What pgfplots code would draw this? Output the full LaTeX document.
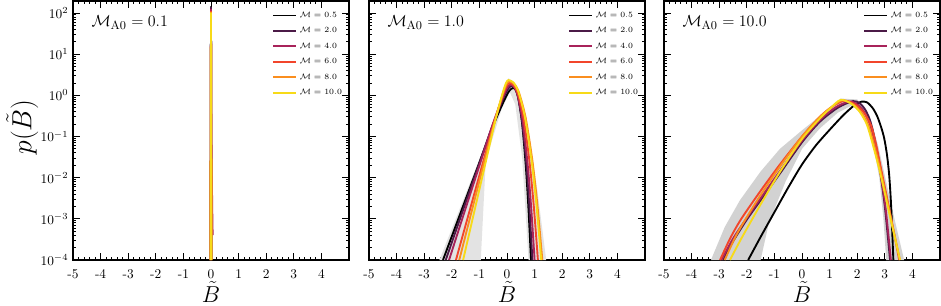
\documentclass[border=0pt]{standalone}
\usepackage{pgfplots}
\pgfplotsset{compat=1.18}
\definecolor{cA}{HTML}{000000}
\definecolor{cB}{HTML}{4B1A47}
\definecolor{cC}{HTML}{A8235A}
\definecolor{cD}{HTML}{F2452B}
\definecolor{cE}{HTML}{FA8E1F}
\definecolor{cF}{HTML}{F7DA18}
\tikzset{crv/.style={line width=1.4pt, smooth, tension=0.45}, spk/.style={line width=1.4pt}}
\begin{document}
\begin{tikzpicture}
% ---------------- Panel 1 ----------------
\begin{axis}[at={(0pt,0pt)}, anchor=south west,
  scale only axis, width=207pt, height=194.25pt,
  xmin=-5, xmax=5, ymode=log, ymin=1e-4, ymax=195,
  xtick={-5,-4,-3,-2,-1,0,1,2,3,4},
  xticklabels={-5,-4,-3,-2,-1,0,1,2,3,4},
  minor x tick num=4,
  ytick={1e-4,1e-3,1e-2,1e-1,1,10,100},
  tick align=inside,
  major tick length=5pt, minor tick length=2.5pt,
  axis line style={line width=0.8pt},
  tick style={black, line width=0.6pt},
  tick label style={font=\normalsize},
  xticklabel style={yshift=-6pt, inner sep=1pt},
  xlabel={$\tilde{B}$},
  xlabel style={font=\fontsize{18}{21}\selectfont, inner sep=0pt, at={(axis description cs:0.5,-0.124)}, anchor=center},
  legend style={at={(axis description cs:0.99,0.975)}, anchor=north east, draw=none, fill=none,
     font=\fontsize{5.7}{6.8}\selectfont, row sep=2pt, inner sep=1pt},
  legend cell align=left,
  ylabel={$p(\tilde{B})$},
  ylabel style={font=\huge, inner sep=0pt, at={(axis description cs:-0.184,0.514)}, anchor=center}]
\addplot[spk, cA] coordinates {(-0.02,1e-4) (-0.006,1) (0,145) (0.006,1) (0.02,1e-4)};
\addplot[spk, cB] coordinates {(-0.02,1e-4) (-0.006,1) (0,140) (0.006,1) (0.02,1e-4)};
\addplot[spk, cC] coordinates {(-0.02,1e-4) (-0.006,1) (0,125) (0.006,1) (0.03,1e-2) (0.05,1e-3) (0.06,4e-4)};
\addplot[spk, cD] coordinates {(-0.02,1e-4) (-0.006,1) (0,112) (0.006,1) (0.02,1e-4)};
\addplot[spk, cE] coordinates {(-0.02,1e-4) (-0.006,1) (0,106) (0.006,1) (0.02,1e-4)};
\addplot[spk, cF] coordinates {(-0.02,1e-4) (-0.006,1) (0,102) (0.006,1) (0.02,1e-4)};
\legend{$\mathcal{M} = 0.5$,$\mathcal{M} = 2.0$,$\mathcal{M} = 4.0$,$\mathcal{M} = 6.0$,$\mathcal{M} = 8.0$,$\mathcal{M} = 10.0$}
\node[anchor=west, font=\fontsize{13}{15}\selectfont] at (rel axis cs:0.05,0.918) {$\mathcal{M}_{\rm A0} = 0.1$};
\end{axis}
% ---------------- Panel 2 ----------------
\begin{axis}[at={(222pt,0pt)}, anchor=south west, yticklabels={},
  scale only axis, width=207pt, height=194.25pt,
  xmin=-5, xmax=5, ymode=log, ymin=1e-4, ymax=195,
  xtick={-5,-4,-3,-2,-1,0,1,2,3,4},
  xticklabels={-5,-4,-3,-2,-1,0,1,2,3,4},
  minor x tick num=4,
  ytick={1e-4,1e-3,1e-2,1e-1,1,10,100},
  tick align=inside,
  major tick length=5pt, minor tick length=2.5pt,
  axis line style={line width=0.8pt},
  tick style={black, line width=0.6pt},
  tick label style={font=\normalsize},
  xticklabel style={yshift=-6pt, inner sep=1pt},
  xlabel={$\tilde{B}$},
  xlabel style={font=\fontsize{18}{21}\selectfont, inner sep=0pt, at={(axis description cs:0.5,-0.124)}, anchor=center},
  legend style={at={(axis description cs:0.99,0.975)}, anchor=north east, draw=none, fill=none,
     font=\fontsize{5.7}{6.8}\selectfont, row sep=2pt, inner sep=1pt},
  legend cell align=left]
\addplot[forget plot, fill=gray!22, draw=none] coordinates {(-2.45,1e-4) (-1.1,1.9e-2) (-0.3,0.5) (0.05,2.6) (0.25,2.1) (0.7,0.3) (1.1,5e-3) (1.42,1e-4) (0.78,1e-4) (0.55,3e-2) (0.3,0.6) (0.1,1.2) (-0.2,0.45) (-0.6,6e-2) (-0.77,2.5e-2) (-0.95,1e-4)} -- cycle;
\addplot[crv, cA] coordinates {(-2.32,1e-4) (-1.685,1.38e-3) (-1.05,1.90e-2) (-0.542,0.155) (-0.237,0.476) (-0.034,0.935) (0.093,1.31) (0.22,1.51) (0.318,1.34) (0.415,0.826) (0.545,0.215) (0.675,2.19e-2) (0.773,2.01e-3) (0.87,1e-4)};
\addplot[crv, cB] coordinates {(-2.22,1e-4) (-1.623,1.43e-3) (-1.025,2.02e-2) (-0.547,0.169) (-0.26,0.527) (-0.069,1.04) (0.05,1.47) (0.17,1.70) (0.283,1.50) (0.395,0.920) (0.545,0.235) (0.695,2.34e-2) (0.808,2.09e-3) (0.92,1e-4)};
\addplot[crv, cC] coordinates {(-2.10,1e-4) (-1.543,1.46e-3) (-0.985,2.10e-2) (-0.539,0.178) (-0.271,0.561) (-0.093,1.11) (0.019,1.57) (0.13,1.82) (0.261,1.60) (0.391,0.982) (0.565,0.248) (0.739,2.43e-2) (0.870,2.13e-3) (1.0,1e-4)};
\addplot[crv, cD] coordinates {(-1.85,1e-4) (-1.365,1.49e-3) (-0.88,2.21e-2) (-0.492,0.191) (-0.259,0.608) (-0.104,1.22) (-0.007,1.72) (0.09,2.00) (0.245,1.75) (0.399,1.07) (0.605,0.267) (0.811,2.56e-2) (0.966,2.20e-3) (1.12,1e-4)};
\addplot[crv, cE] coordinates {(-1.73,1e-4) (-1.28,1.53e-3) (-0.83,2.32e-2) (-0.47,0.205) (-0.254,0.659) (-0.11,1.33) (-0.02,1.88) (0.07,2.19) (0.252,1.92) (0.433,1.17) (0.675,0.288) (0.917,2.69e-2) (1.099,2.26e-3) (1.28,1e-4)};
\addplot[crv, cF] coordinates {(-1.59,1e-4) (-1.18,1.56e-3) (-0.77,2.41e-2) (-0.442,0.216) (-0.245,0.701) (-0.114,1.42) (-0.032,2.01) (0.05,2.34) (0.229,2.06) (0.407,1.24) (0.645,0.304) (0.883,2.80e-2) (1.062,2.31e-3) (1.24,1e-4)};
\legend{$\mathcal{M} = 0.5$,$\mathcal{M} = 2.0$,$\mathcal{M} = 4.0$,$\mathcal{M} = 6.0$,$\mathcal{M} = 8.0$,$\mathcal{M} = 10.0$}
\node[anchor=west, font=\fontsize{13}{15}\selectfont] at (rel axis cs:0.05,0.918) {$\mathcal{M}_{\rm A0} = 1.0$};
\end{axis}
% ---------------- Panel 3 ----------------
\begin{axis}[at={(443.25pt,0pt)}, anchor=south west, yticklabels={},
  scale only axis, width=207pt, height=194.25pt,
  xmin=-5, xmax=5, ymode=log, ymin=1e-4, ymax=195,
  xtick={-5,-4,-3,-2,-1,0,1,2,3,4},
  xticklabels={-5,-4,-3,-2,-1,0,1,2,3,4},
  minor x tick num=4,
  ytick={1e-4,1e-3,1e-2,1e-1,1,10,100},
  tick align=inside,
  major tick length=5pt, minor tick length=2.5pt,
  axis line style={line width=0.8pt},
  tick style={black, line width=0.6pt},
  tick label style={font=\normalsize},
  xticklabel style={yshift=-6pt, inner sep=1pt},
  xlabel={$\tilde{B}$},
  xlabel style={font=\fontsize{18}{21}\selectfont, inner sep=0pt, at={(axis description cs:0.5,-0.124)}, anchor=center},
  legend style={at={(axis description cs:0.99,0.975)}, anchor=north east, draw=none, fill=none,
     font=\fontsize{5.7}{6.8}\selectfont, row sep=2pt, inner sep=1pt},
  legend cell align=left]
\addplot[forget plot, fill=gray!35, draw=none] coordinates {(-3.3,1e-4) (-2.8,6.31e-4) (-2.25,2.82e-3) (-1.5,1.41e-2) (-0.8,5.01e-2) (0,0.141) (0.8,0.380) (1.4,0.832) (2.0,0.794) (2.45,0.316) (2.75,6.31e-2) (3.05,7.94e-3) (3.35,1e-3) (3.7,1e-4) (3.05,1e-4) (2.95,1e-3) (2.8,1e-2) (2.55,7.94e-2) (2.2,0.355) (1.8,0.562) (1.3,0.380) (0.65,0.158) (0,5.01e-2) (-0.6,7.94e-3) (-1.2,7.94e-4) (-1.5,1e-4)} -- cycle;
\addplot[crv, cA] coordinates {(-1.95,1e-4) (-1.5,3.63e-4) (-1.0,1.45e-3) (-0.5,5.75e-3) (0,2.09e-2) (0.5,6.03e-2) (1.0,0.145) (1.5,0.331) (1.9,0.575) (2.15,0.700) (2.35,0.676) (2.55,0.501) (2.72,0.316) (2.87,0.166) (2.98,8.91e-2) (3.08,3.55e-2) (3.16,1.12e-2) (3.23,2.0e-3) (3.31,1e-4)};
\addplot[crv, cB] coordinates {(-2.85,1e-4) (-2.5,2.82e-4) (-2.0,9.55e-4) (-1.5,2.82e-3) (-0.8,1.26e-2) (0,7.24e-2) (0.65,0.229) (1.3,0.501) (1.85,0.724) (2.1,0.631) (2.3,0.437) (2.47,0.240) (2.62,9.55e-2) (2.8,2.0e-2) (3.0,2.0e-3) (3.19,1e-4)};
\addplot[crv, cC] coordinates {(-2.92,1e-4) (-2.5,3.31e-4) (-2.0,1.05e-3) (-1.5,3.16e-3) (-0.8,1.45e-2) (0,7.94e-2) (0.65,0.251) (1.2,0.501) (1.7,0.708) (2.0,0.603) (2.25,0.398) (2.45,0.209) (2.62,7.94e-2) (2.82,1.58e-2) (3.03,1.78e-3) (3.22,1e-4)};
\addplot[crv, cD] coordinates {(-2.97,1e-4) (-2.6,3.39e-4) (-2.2,1e-3) (-1.5,4.79e-3) (-0.8,2.09e-2) (0,0.1) (0.65,0.302) (1.1,0.537) (1.55,0.741) (1.95,0.589) (2.25,0.372) (2.5,0.186) (2.68,6.61e-2) (2.9,1.26e-2) (3.22,1.12e-3) (3.52,1e-4)};
\addplot[crv, cE] coordinates {(-2.8,1e-4) (-2.4,3.80e-4) (-2.0,1.10e-3) (-1.5,3.80e-3) (-0.8,1.86e-2) (0,0.1) (0.65,0.302) (1.05,0.501) (1.45,0.759) (1.85,0.603) (2.15,0.380) (2.4,0.191) (2.6,6.76e-2) (2.87,1.26e-2) (3.21,1.12e-3) (3.55,1e-4)};
\addplot[crv, cF] coordinates {(-2.61,1e-4) (-2.2,3.31e-4) (-1.5,2.24e-3) (-0.8,1.38e-2) (0,8.71e-2) (0.65,0.275) (1.0,0.468) (1.4,0.776) (1.8,0.617) (2.1,0.389) (2.35,0.195) (2.55,6.92e-2) (2.83,1.32e-2) (3.19,1.12e-3) (3.55,1e-4)};
\legend{$\mathcal{M} = 0.5$,$\mathcal{M} = 2.0$,$\mathcal{M} = 4.0$,$\mathcal{M} = 6.0$,$\mathcal{M} = 8.0$,$\mathcal{M} = 10.0$}
\node[anchor=west, font=\fontsize{13}{15}\selectfont] at (rel axis cs:0.05,0.918) {$\mathcal{M}_{\rm A0} = 10.0$};
\end{axis}
\pgfresetboundingbox
\path[use as bounding box] (-54.75pt,-33.75pt) rectangle (651pt,195pt);
\end{tikzpicture}
\end{document}
